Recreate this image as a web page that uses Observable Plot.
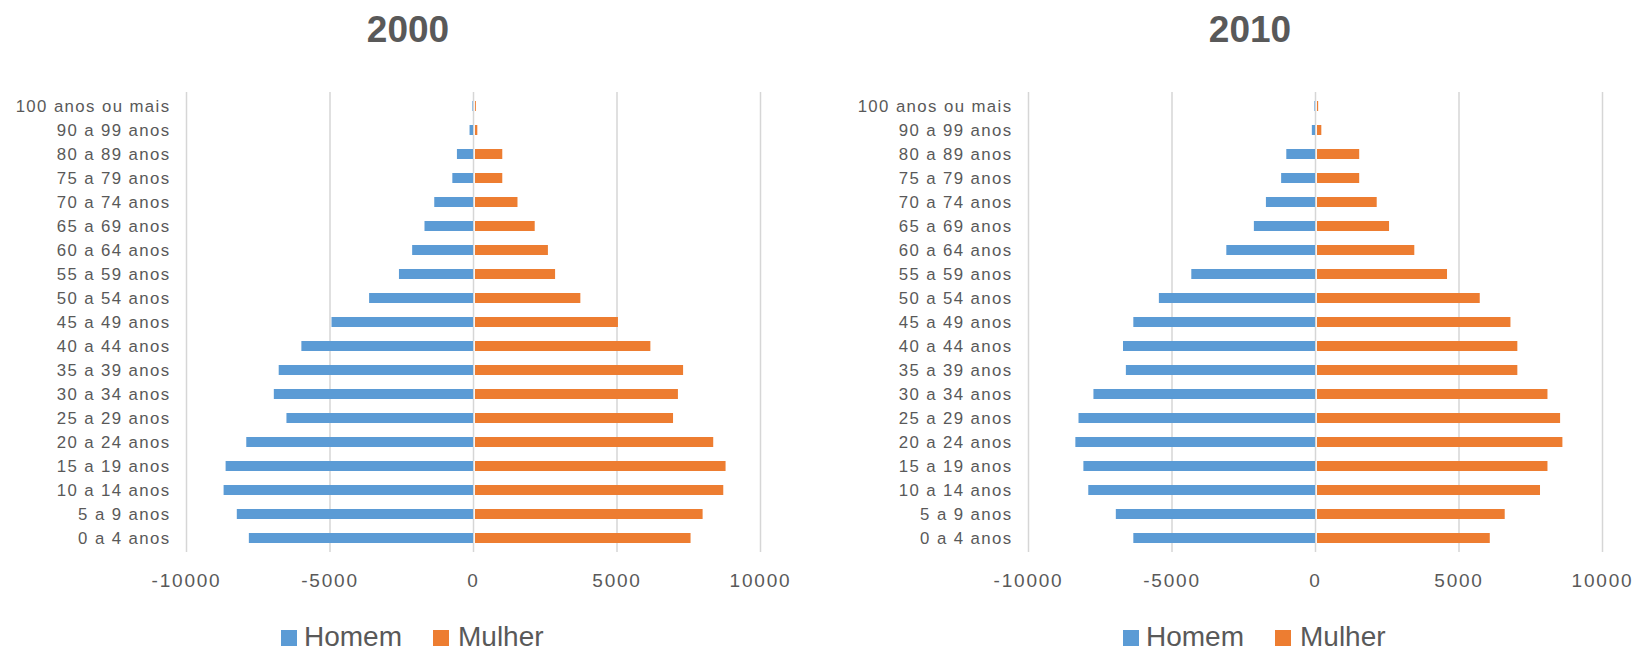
<!DOCTYPE html>
<html><head><meta charset="utf-8">
<script src="https://cdn.jsdelivr.net/npm/d3@7"></script>
<script src="https://cdn.jsdelivr.net/npm/@observablehq/plot@0.6"></script>
<style>
html,body{margin:0;padding:0;background:#fff;overflow:hidden}
body{width:1637px;height:653px;position:relative;font-family:"Liberation Sans",Arial,sans-serif;color:#595959}
.title{position:absolute;top:11px;width:816px;text-align:center;font-weight:bold;font-size:37px;line-height:37px;color:#595959}
.panel{position:absolute;top:80px}
.sw{position:absolute;width:16px;height:16px;top:630px}
.lt{position:absolute;top:626px;font-size:28px;line-height:22px;white-space:nowrap;color:#595959}
g[aria-label="y-axis tick label"]{letter-spacing:1.4px}
g[aria-label="x-axis tick label"]{letter-spacing:1.8px}
</style></head><body>
<script>
// Age groups, top to bottom as drawn
const ageGroups = ["100 anos ou mais","90 a 99 anos","80 a 89 anos","75 a 79 anos","70 a 74 anos","65 a 69 anos","60 a 64 anos","55 a 59 anos","50 a 54 anos","45 a 49 anos","40 a 44 anos","35 a 39 anos","30 a 34 anos","25 a 29 anos","20 a 24 anos","15 a 19 anos","10 a 14 anos","5 a 9 anos","0 a 4 anos"];
const years = ["2000", "2010"];
const seriesNames = ["Homem", "Mulher"];
const homem2000  = [20, 120, 560, 720, 1350, 1690, 2120, 2580, 3620, 4930, 5980, 6770, 6940, 6500, 7900, 8620, 8690, 8230, 7810];
const mulher2000 = [100, 150, 1020, 1020, 1550, 2150, 2610, 2860, 3740, 5050, 6180, 7320, 7140, 6970, 8370, 8800, 8720, 8000, 7580];
const homem2010  = [20, 110, 1000, 1180, 1710, 2130, 3090, 4310, 5440, 6330, 6690, 6590, 7720, 8240, 8350, 8070, 7900, 6940, 6330];
const mulher2010 = [110, 220, 1540, 1540, 2150, 2580, 3460, 4600, 5740, 6810, 7050, 7050, 8100, 8540, 8620, 8100, 7840, 6610, 6090];
const xTicks = [-10000, -5000, 0, 5000, 10000];
const xDomain = [-10000, 10000];

const BLUE = "#5B9BD5", ORANGE = "#ED7D31", GRID = "#d6d6d6";

function panel(yearIdx, homem, mulher, dx) {
  const rowsH = ageGroups.map((a, i) => ({age: a, value: -homem[i]}));
  const rowsM = ageGroups.map((a, i) => ({age: a, value: mulher[i]}));
  const t = document.createElement("div");
  t.className = "title"; t.style.left = dx + "px"; t.textContent = years[yearIdx];
  document.body.appendChild(t);

  const chart = Plot.plot({
    width: 818, height: 520,
    marginLeft: 186, marginRight: 58, marginTop: 12, marginBottom: 48,
    style: {fontFamily: '"Liberation Sans", Arial, sans-serif', fontSize: "17px", color: "#595959", background: "transparent"},
    x: {domain: xDomain, label: null},
    y: {domain: ageGroups, paddingInner: 0.58, paddingOuter: 0.29, label: null},
    marks: [
      Plot.gridX(xTicks, {stroke: GRID, strokeOpacity: 1, strokeWidth: 1.5}),
      Plot.barX(rowsH, {x: "value", y: "age", fill: BLUE}),
      Plot.barX(rowsM, {x: "value", y: "age", fill: ORANGE, insetLeft: 2}),
      Plot.axisX({ticks: xTicks, tickSize: 0, tickPadding: 21, fontSize: 19, label: null, tickFormat: d => String(d)}),
      Plot.axisY({tickSize: 0, tickPadding: 16, fontSize: 16.8, label: null})
    ]
  });
  chart.classList.add("panel");
  chart.style.left = dx + "px";
  document.body.appendChild(chart);

  const colors = [BLUE, ORANGE];
  const swX = [281, 433], txX = [304, 458];
  seriesNames.forEach((name, i) => {
    const s = document.createElement("div");
    s.className = "sw"; s.style.left = (dx + swX[i]) + "px"; s.style.background = colors[i];
    document.body.appendChild(s);
    const l = document.createElement("div");
    l.className = "lt"; l.style.left = (dx + txX[i]) + "px"; l.textContent = name;
    document.body.appendChild(l);
  });
}
panel(0, homem2000, mulher2000, 0);
panel(1, homem2010, mulher2010, 842);
</script>
</body></html>
